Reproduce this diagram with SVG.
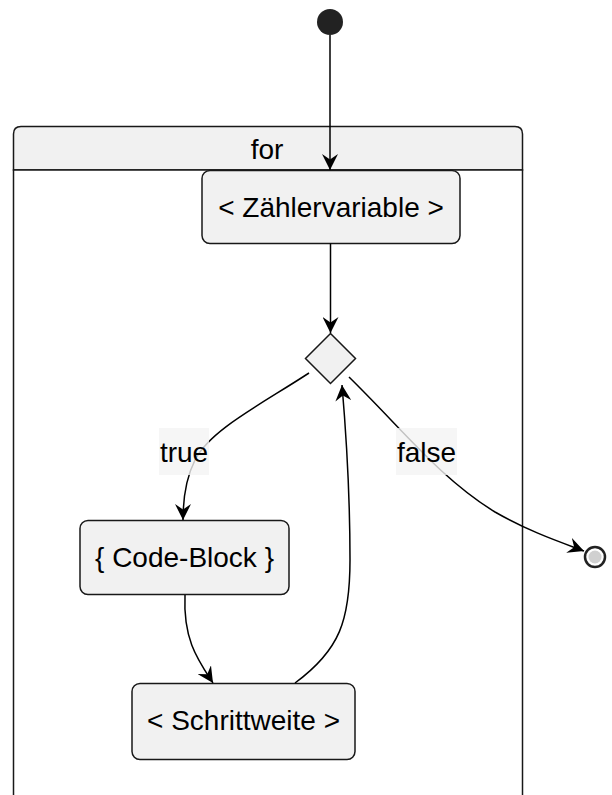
<svg xmlns="http://www.w3.org/2000/svg" width="612" height="795" viewBox="0 0 612 795">
<style>
.node{fill:#F1F1F1;stroke:#181818;stroke-width:1.5}
.txt{font-family:"Liberation Sans",Arial,sans-serif;font-size:28px;fill:#000;text-anchor:middle}
.edge{fill:none;stroke:#000;stroke-width:1.5}
.lbl{fill:#F4F4F4;opacity:0.8}
</style>
<defs>
<marker id="arr" viewBox="0 0 16 16" refX="16" refY="8" markerWidth="16" markerHeight="16" markerUnits="userSpaceOnUse" orient="auto">
<path d="M0,0 L16,8 L0,16 L5.5,8 z" fill="#000"/>
</marker>
</defs>
<rect width="612" height="795" fill="#fff"/>
<g id="container">
<path d="M13.5,170 L13.5,134 Q13.5,126.5 21,126.5 L515,126.5 Q522.5,126.5 522.5,134 L522.5,170 Z" class="node"/>
<rect x="13.5" y="170" width="509" height="626" fill="#fff" stroke="#181818" stroke-width="1.5"/>
<text x="267" y="159" class="txt">for</text>
</g>
<g id="start"><circle cx="330" cy="22" r="13" fill="#222"/></g>
<g id="zaehler">
<rect x="202" y="170.5" width="258" height="73" rx="8" class="node"/>
<text x="331" y="217" class="txt">&lt; Zählervariable &gt;</text>
</g>
<g id="decision">
<polygon points="330.5,333.5 355.5,358.5 330.5,383.5 305.5,358.5" class="node"/>
</g>
<g id="codeblock">
<rect x="80" y="520.5" width="209" height="74" rx="8" class="node"/>
<text x="184.5" y="567" class="txt">{ Code-Block }</text>
</g>
<g id="schritt">
<rect x="132" y="683.5" width="223" height="76" rx="8" class="node"/>
<text x="243.5" y="730" class="txt">&lt; Schrittweite &gt;</text>
</g>
<g id="end">
<circle cx="595" cy="557" r="10" fill="#fff" stroke="#222" stroke-width="2.5"/>
<circle cx="595" cy="557" r="6.5" fill="#D0D0D0"/>
</g>
<g id="connectors">
<path d="M330,35 L330,170" class="edge" marker-end="url(#arr)"/>
<path d="M330.5,243.5 L330.5,333" class="edge" marker-end="url(#arr)"/>
<path d="M309,373 C260,405 210,430 195,460 C185,480 183,500 183,520" class="edge" marker-end="url(#arr)"/>
<path d="M185,595 C183,640 198,660 213,683" class="edge" marker-end="url(#arr)"/>
<path d="M295,683 C340,650 350,620 350,560 C350,480 345,420 342,385" class="edge" marker-end="url(#arr)"/>
<path d="M349,377 C405,432 440,478 495,512 C530,532 560,542 584,551" class="edge" marker-end="url(#arr)"/>
<rect x="159" y="428" width="50" height="47" class="lbl"/>
<text x="184" y="462" class="txt">true</text>
<rect x="396" y="428" width="61" height="47" class="lbl"/>
<text x="426.5" y="462" class="txt">false</text>
</g>
</svg>
